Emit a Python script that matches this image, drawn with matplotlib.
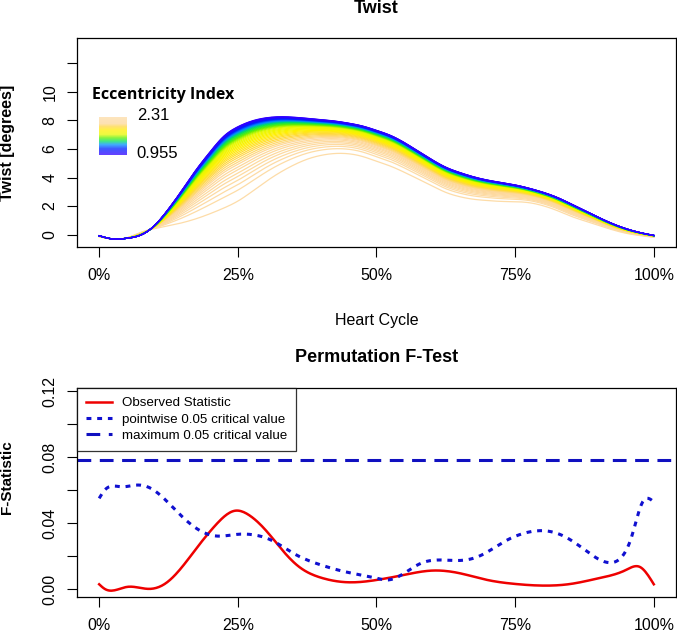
import matplotlib
matplotlib.use("Agg")
import matplotlib.pyplot as plt
import numpy as np
from matplotlib.colors import LinearSegmentedColormap

# heart cycle grid (fraction of cycle)
cycle = [0.000, 0.025, 0.050, 0.075, 0.100, 0.125, 0.150, 0.175, 0.200, 0.225,
         0.250, 0.275, 0.300, 0.325, 0.350, 0.375, 0.400, 0.425, 0.450, 0.475,
         0.500, 0.525, 0.550, 0.575, 0.600, 0.625, 0.650, 0.675, 0.700, 0.725,
         0.750, 0.775, 0.800, 0.825, 0.850, 0.875, 0.900, 0.925, 0.950, 0.975, 1.000]

# fitted twist curve at lowest eccentricity index (0.955)
twist_low_ei = [-0.07, -0.30, -0.25, -0.03, 0.65, 1.80, 3.15, 4.55, 5.80, 6.90,
                7.55, 7.95, 8.17, 8.25, 8.22, 8.14, 8.05, 7.95, 7.80, 7.60,
                7.30, 6.95, 6.45, 5.85, 5.25, 4.72, 4.35, 4.05, 3.82, 3.65,
                3.48, 3.25, 2.97, 2.62, 2.17, 1.70, 1.22, 0.78, 0.42, 0.15, -0.05]

# fitted twist curve at highest eccentricity index (2.31)
twist_high_ei = [-0.14, -0.30, -0.22, 0.17, 0.42, 0.62, 0.84, 1.12, 1.47, 1.87,
                 2.35, 3.00, 3.70, 4.33, 4.86, 5.28, 5.55, 5.68, 5.66, 5.47,
                 5.14, 4.80, 4.37, 3.90, 3.42, 2.96, 2.66, 2.48, 2.39, 2.33,
                 2.31, 2.24, 2.03, 1.70, 1.30, 0.97, 0.65, 0.35, 0.10, -0.06, -0.18]

# eccentricity index of each subject
ecc_index = [0.955, 0.961, 0.967, 0.973, 0.979, 0.985, 0.992, 0.999, 1.006, 1.014,
             1.022, 1.031, 1.040, 1.050, 1.060, 1.071, 1.082,
             1.095, 1.108, 1.122, 1.136, 1.150, 1.165, 1.180,
             1.198, 1.218, 1.240, 1.262, 1.285, 1.310, 1.335, 1.362, 1.390, 1.420,
             1.450, 1.485, 1.520,
             1.560, 1.600, 1.640, 1.690, 1.740, 1.800, 1.860, 1.930, 2.010, 2.110, 2.310]

# permutation F-test
f_cycle = [0.00, 0.01, 0.05, 0.09, 0.12, 0.15, 0.18, 0.21, 0.245, 0.27, 0.30, 0.33,
           0.36, 0.40, 0.45, 0.50, 0.55, 0.60, 0.65, 0.70, 0.75, 0.80, 0.85, 0.90,
           0.95, 0.975, 1.00]
observed = [0.0030, 0.0002, 0.0014, 0.0002, 0.0036, 0.0137, 0.0268, 0.0389, 0.0476,
            0.0450, 0.0359, 0.0238, 0.0137, 0.0070, 0.0042, 0.0056, 0.0087, 0.0113,
            0.0097, 0.0056, 0.0032, 0.0022, 0.0032, 0.0066, 0.0117, 0.0135, 0.0030]

p_cycle = [0.00, 0.01, 0.04, 0.065, 0.09, 0.12, 0.15, 0.18, 0.21, 0.25, 0.28, 0.31,
           0.35, 0.40, 0.45, 0.50, 0.52, 0.55, 0.58, 0.62, 0.66, 0.69, 0.73, 0.77,
           0.80, 0.84, 0.88, 0.92, 0.94, 0.96, 0.98, 0.99, 1.00]
pointwise = [0.0551, 0.0601, 0.0621, 0.0631, 0.0617, 0.0540, 0.0439, 0.0359, 0.0323,
             0.0333, 0.0329, 0.0298, 0.0218, 0.0147, 0.0101, 0.0067, 0.0056, 0.0097,
             0.0157, 0.0177, 0.0177, 0.0208, 0.0288, 0.0343, 0.0355, 0.0318, 0.0228,
             0.0161, 0.0188, 0.0318, 0.0530, 0.0551, 0.0530]
max_critical = 0.0783

pct_ticks = [0, 0.25, 0.5, 0.75, 1.0]
pct_labels = ["0%", "25%", "50%", "75%", "100%"]


def smooth(xs, ys, num=400):
    # natural cubic spline through the read points, only for drawing
    xs = np.asarray(xs, float)
    ys = np.asarray(ys, float)
    n = len(xs)
    h = np.diff(xs)
    A = np.zeros((n, n))
    r = np.zeros(n)
    A[0, 0] = A[-1, -1] = 1
    for i in range(1, n - 1):
        A[i, i - 1] = h[i - 1]
        A[i, i] = 2 * (h[i - 1] + h[i])
        A[i, i + 1] = h[i]
        r[i] = 3 * ((ys[i + 1] - ys[i]) / h[i] - (ys[i] - ys[i - 1]) / h[i - 1])
    c = np.linalg.solve(A, r)
    b = np.diff(ys) / h - h * (2 * c[:-1] + c[1:]) / 3
    d = np.diff(c) / (3 * h)
    xx = np.linspace(xs[0], xs[-1], num)
    k = np.clip(np.searchsorted(xs, xx) - 1, 0, n - 2)
    t = xx - xs[k]
    return xx, ys[k] + b[k] * t + c[k] * t ** 2 + d[k] * t ** 3


plt.rcParams['font.family'] = ['Liberation Sans', 'DejaVu Sans']

ei_cmap = LinearSegmentedColormap.from_list("ei", [
    (0.00, "#3000FF"), (0.16, "#0020FF"), (0.27, "#0090FF"), (0.36, "#00E060"),
    (0.45, "#60F000"), (0.54, "#E8F800"), (0.65, "#FFF000"), (0.75, "#FFD840"),
    (0.83, "#FDD89A"), (1.00, "#FDDCA8")])

fig = plt.figure(figsize=(6.77, 6.34), dpi=100)
ax1 = fig.add_axes([0.1137, 0.6104, 0.8848, 0.3301])
ax2 = fig.add_axes([0.1137, 0.0584, 0.8848, 0.3301])

# top panel: one curve per subject, coloured by rank of eccentricity index
lo = np.array(twist_low_ei)
hi = np.array(twist_high_ei)
ei = np.array(ecc_index)
order = np.argsort(ei)
n = len(ei)
for rank in range(n - 1, -1, -1):
    e = ei[order[rank]]
    w = (e - ei.min()) / (ei.max() - ei.min())
    xx, yy = smooth(cycle, lo + w * (hi - lo))
    ax1.plot(xx, yy, color=ei_cmap(rank / (n - 1)), lw=0.9)

ax1.set_xlim(-0.04, 1.04)
ax1.set_ylim(-0.86, 13.78)
ax1.set_yticks(range(0, 13, 2))
ax1.set_yticklabels(["0", "2", "4", "6", "8", "10", ""], rotation=90, va="center")

# colour key
grad = np.linspace(1, 0, 100).reshape(-1, 1)
kax = fig.add_axes([99.3 / 677, 1 - 155 / 634, 27.4 / 677, 37.7 / 634])
kax.imshow(grad, cmap=ei_cmap, aspect="auto", alpha=0.75)
kax.axis("off")
fig.text(91.7 / 677, 1 - 95 / 634, "Eccentricity Index", fontsize=11.5,
         fontweight="bold", family=["Open Sans", "DejaVu Sans"], va="center")
fig.text(136.7 / 677, 1 - 115.5 / 634, "2.31", fontsize=12, va="center")
fig.text(136.7 / 677, 1 - 153.3 / 634, "0.955", fontsize=12, va="center")

# bottom panel
xx, yy = smooth(f_cycle, observed)
ax2.plot(xx, yy, color="#EE0000", lw=1.8, label="Observed Statistic")
xx, yy = smooth(p_cycle, pointwise)
ax2.plot(xx, yy, color="#1010D0", lw=2.2, dashes=(1.6, 1.9),
         label="pointwise 0.05 critical value")
ax2.axhline(max_critical, color="#1010C0", lw=2.2, dashes=(4.5, 2.8),
            label="maximum 0.05 critical value")
ax2.set_xlim(-0.04, 1.04)
ax2.set_ylim(-0.0047, 0.1222)
ax2.set_yticks([0, 0.02, 0.04, 0.06, 0.08, 0.10, 0.12])
ax2.set_yticklabels(["0.00", "", "0.04", "", "0.08", "", "0.12"], rotation=90, va="center")
leg = ax2.legend(loc="upper left", fontsize=9.6, frameon=True, fancybox=False,
                 borderaxespad=0, handlelength=1.9, handletextpad=0.75,
                 labelspacing=0.3, borderpad=0.7)
leg.get_frame().set_edgecolor("black")
leg.get_frame().set_linewidth(0.9)

for ax in (ax1, ax2):
    ax.set_xticks(pct_ticks)
    ax.set_xticklabels(pct_labels)
    ax.tick_params(direction="out", length=7.2, width=0.8, labelsize=11.5)
    ax.tick_params(axis="x", pad=8)
    ax.tick_params(axis="y", pad=7)
    for s in ax.spines.values():
        s.set_linewidth(0.9)

fig.text(376.5 / 677, 1 - 8.5 / 634, "Twist", fontsize=13, fontweight="bold",
         ha="center", va="center")
fig.text(376.5 / 677, 1 - 357.7 / 634, "Permutation F-Test", fontsize=13,
         fontweight="bold", ha="center", va="center")
fig.text(7.5 / 677, 1 - 142.5 / 634, "Twist [degrees]", fontsize=11.5,
         fontweight="bold", rotation=90, ha="center", va="center")
fig.text(7.5 / 677, 1 - 476.7 / 634, "F-Statistic", fontsize=11,
         fontweight="bold", rotation=90, ha="center", va="center")
fig.text(376.5 / 677, 1 - 320 / 634, "Heart Cycle", fontsize=11.5,
         ha="center", va="center")

fig.savefig("out.png", dpi=100)
